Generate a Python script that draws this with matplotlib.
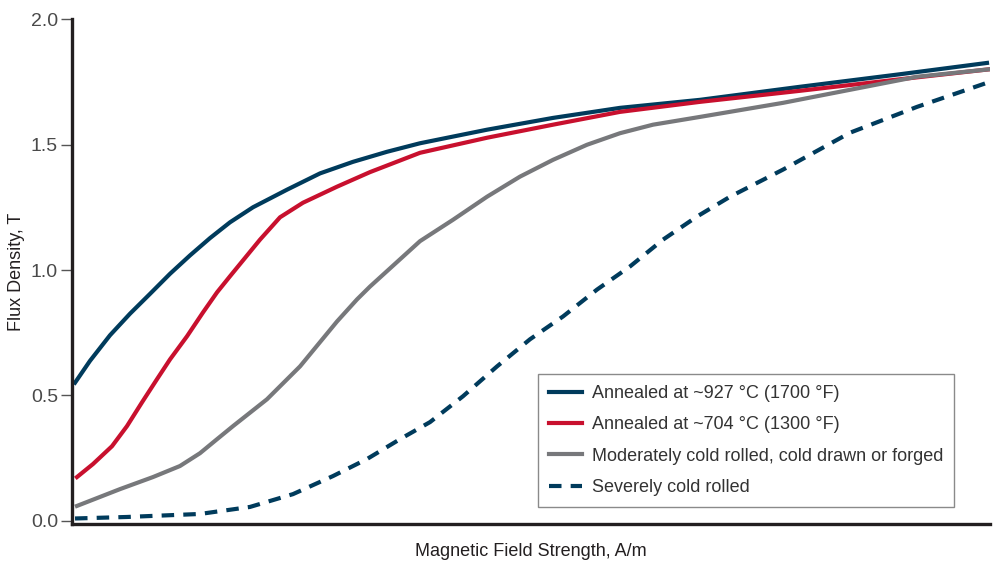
"""
B-H magnetization curves for differently processed material.
"""
import matplotlib
matplotlib.use("Agg")
import matplotlib.pyplot as plt

plt.rcParams['font.family'] = ['Liberation Sans', 'DejaVu Sans']

# x is relative field strength (0-100); the chart's H axis carries no numeric scale
annealed_927_x = [0.33, 1.96, 4.14, 6.32, 8.50, 10.68, 12.85, 15.03, 17.21, 19.72, 23.42, 27.02,
                  30.61, 34.31, 37.91, 45.21, 52.40, 59.69, 68.41, 79.30, 90.20, 99.67]
annealed_927_b = [0.551, 0.638, 0.74, 0.826, 0.905, 0.985, 1.058, 1.127, 1.19, 1.25, 1.32, 1.385,
                  1.431, 1.471, 1.505, 1.559, 1.606, 1.646, 1.678, 1.73, 1.78, 1.825]

annealed_704_x = [0.54, 2.29, 4.36, 5.99, 7.63, 9.26, 10.68, 12.53, 14.27, 15.80, 17.21, 20.48,
                  22.66, 25.16, 28.87, 32.46, 37.91, 45.21, 52.40, 59.69, 68.41, 79.30, 90.20, 100.0]
annealed_704_b = [0.175, 0.227, 0.298, 0.378, 0.473, 0.565, 0.644, 0.736, 0.831, 0.911, 0.975, 1.121,
                  1.21, 1.268, 1.332, 1.39, 1.467, 1.527, 1.579, 1.63, 1.67, 1.714, 1.76, 1.80]

cold_moderate_x = [0.54, 5.23, 8.82, 11.76, 13.94, 15.80, 17.54, 21.24, 24.84, 28.87,
                   31.05, 32.46, 37.91, 41.50, 45.21, 48.80, 52.40, 56.10, 59.69, 63.29, 68.41,
                   77.45, 92.05, 100.0]
cold_moderate_b = [0.06, 0.127, 0.175, 0.219, 0.27, 0.326, 0.378, 0.485, 0.616, 0.795,
                   0.883, 0.934, 1.115, 1.2, 1.292, 1.372, 1.439, 1.499, 1.545, 1.579, 1.61,
                   1.666, 1.77, 1.80]

cold_severe_x = [0.33, 5.99, 13.94, 19.39, 24.07, 28.43, 32.14, 35.73, 39.00, 42.59, 46.30, 49.89,
                 53.49, 57.19, 60.78, 64.38, 68.08, 71.68, 77.45, 84.75, 92.05, 100.0]
cold_severe_b = [0.01, 0.016, 0.028, 0.056, 0.107, 0.179, 0.247, 0.326, 0.394, 0.497, 0.616, 0.724,
                 0.815, 0.922, 1.014, 1.121, 1.213, 1.292, 1.40, 1.547, 1.65, 1.75]

labels = [
    "Annealed at ~927 °C (1700 °F)",
    "Annealed at ~704 °C (1300 °F)",
    "Moderately cold rolled, cold drawn or forged",
    "Severely cold rolled",
]

NAVY = "#003b5c"
RED = "#c8102e"
GRAY = "#77787b"
INK = "#231f20"

fig = plt.figure(figsize=(9.93, 5.66), dpi=100)
ax = fig.add_axes([0.0725, 0.0742, 0.9245, 0.8922])

lw = 3.0
ax.plot(annealed_927_x, annealed_927_b, color=NAVY, lw=lw, label=labels[0], solid_joinstyle='round')
ax.plot(annealed_704_x, annealed_704_b, color=RED, lw=lw, label=labels[1], solid_joinstyle='round')
ax.plot(cold_moderate_x, cold_moderate_b, color=GRAY, lw=lw, label=labels[2], solid_joinstyle='round')
ax.plot(cold_severe_x, cold_severe_b, color=NAVY, lw=lw, ls=(0, (3, 2.2)), label=labels[3])

ax.set_xlim(0, 100)
ax.set_ylim(-0.012, 2.0)
ax.set_yticks([0.0, 0.5, 1.0, 1.5, 2.0])
ax.set_yticklabels(["0.0", "0.5", "1.0", "1.5", "2.0"])
ax.set_xticks([])

for side in ("top", "right"):
    ax.spines[side].set_visible(False)
for side in ("left", "bottom"):
    ax.spines[side].set_linewidth(2.4)
    ax.spines[side].set_color(INK)

ax.tick_params(axis='y', direction='out', length=8, width=1, color="#555555",
               labelsize=14, labelcolor="#4a4a4a", pad=2)

ax.set_ylabel("Flux Density, T", fontsize=13, color=INK, labelpad=4)
ax.set_xlabel("Magnetic Field Strength, A/m", fontsize=13, color=INK, labelpad=14)

leg = ax.legend(loc="upper left", bbox_to_anchor=(0.508, 0.297), fontsize=13,
                frameon=True, fancybox=False, edgecolor="#6d6d6d",
                handlelength=1.8, handletextpad=0.55, labelspacing=0.8,
                borderpad=0.6, borderaxespad=0)
leg.get_frame().set_linewidth(1.0)
for t in leg.get_texts():
    t.set_color("#333333")

fig.savefig("out.png", dpi=100)
